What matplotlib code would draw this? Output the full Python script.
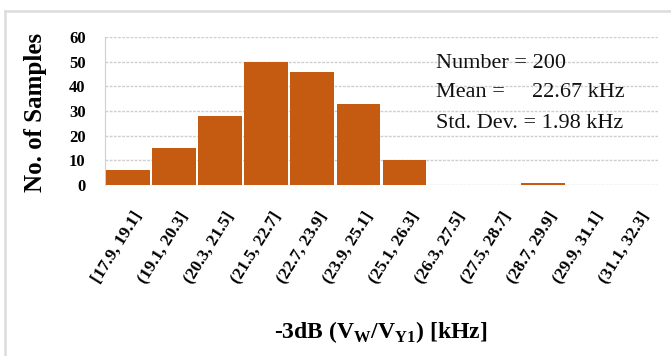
import numpy as np
import matplotlib
matplotlib.use('Agg')
import matplotlib.pyplot as plt
import matplotlib.transforms as mtransforms
from matplotlib.lines import Line2D

# bins of the -3dB bandwidth and number of samples in each
bins = ['[17.9, 19.1]', '(19.1, 20.3]', '(20.3, 21.5]', '(21.5, 22.7]',
        '(22.7, 23.9]', '(23.9, 25.1]', '(25.1, 26.3]', '(26.3, 27.5]',
        '(27.5, 28.7]', '(28.7, 29.9]', '(29.9, 31.1]', '(31.1, 32.3]']
counts = [6, 15, 28, 50, 46, 33, 10, 0, 0, 1, 0, 0]
y_ticks = [0, 10, 20, 30, 40, 50, 60]

n_samples = 200
mean_khz = 22.67
std_khz = 1.98

plt.rcParams['mathtext.fontset'] = 'custom'
plt.rcParams['mathtext.rm'] = 'Liberation Serif:bold'
plt.rcParams['mathtext.bf'] = 'Liberation Serif:bold'

fig = plt.figure(figsize=(6.71, 3.56), dpi=100)
ax = fig.add_axes([105/671, 1-185/356, 553/671, 148/356])

x = np.arange(len(bins))
ax.bar(x, counts, width=0.95, color='#C55A11', zorder=3)

ax.set_xlim(-0.5, len(bins)-0.5)
ax.set_ylim(0, 60)
ax.set_yticks(y_ticks)
ax.set_yticklabels([str(v) for v in y_ticks], fontfamily='Liberation Serif',
                   fontweight='bold', fontsize=12)
ax.tick_params(axis='y', length=0, pad=14)

ax.set_xticks(x)
ax.set_xticklabels(bins, rotation=58, ha='right', rotation_mode='anchor',
                   fontfamily='Liberation Serif', fontweight='bold', fontsize=12.5)
ax.tick_params(axis='x', length=0, pad=17)
shift = mtransforms.ScaledTranslation(0.04, 0, fig.dpi_scale_trans)
for lbl in ax.get_xticklabels():
    lbl.set_transform(lbl.get_transform() + shift)

ax.grid(axis='y', color='#cfcfcf', linestyle=(0, (2, 1)), linewidth=1, zorder=0)
for s in ['top', 'right', 'bottom']:
    ax.spines[s].set_visible(False)
ax.spines['left'].set_color('#cfcfcf')
ax.spines['left'].set_linestyle((0, (2, 1)))

ax.set_ylabel('No. of Samples', fontfamily='Liberation Serif', fontweight='bold',
              fontsize=18, va='center', ha='center')
ax.yaxis.set_label_coords(-0.126, 0.493)
ax.set_xlabel(r'-3dB (V$_\mathrm{W}$/V$_\mathrm{Y1}$) [kHz]',
              fontfamily='Liberation Serif', fontweight='bold', fontsize=17,
              va='baseline')
ax.xaxis.set_label_coords(0.499, -1.034)

# summary statistics
stat_kw = dict(transform=ax.transAxes, fontfamily='Liberation Serif',
               fontsize=16, va='baseline', color='#111111')
ax.text(0.599, 0.79, f'Number = {n_samples}', **stat_kw)
ax.text(0.599, 0.595, 'Mean =', **stat_kw)
ax.text(0.772, 0.595, f'{mean_khz:.2f} kHz', **stat_kw)
ax.text(0.599, 0.385, f'Std. Dev. = {std_khz:.2f} kHz', **stat_kw)

# light frame around the chart
fig.add_artist(Line2D([5/671, 1.0], [1-11/356, 1-11/356], color='#dcdcdc', lw=1.8))
fig.add_artist(Line2D([5/671, 5/671], [0, 1-11/356], color='#dcdcdc', lw=1.8))

fig.savefig('out.png', dpi=100)
